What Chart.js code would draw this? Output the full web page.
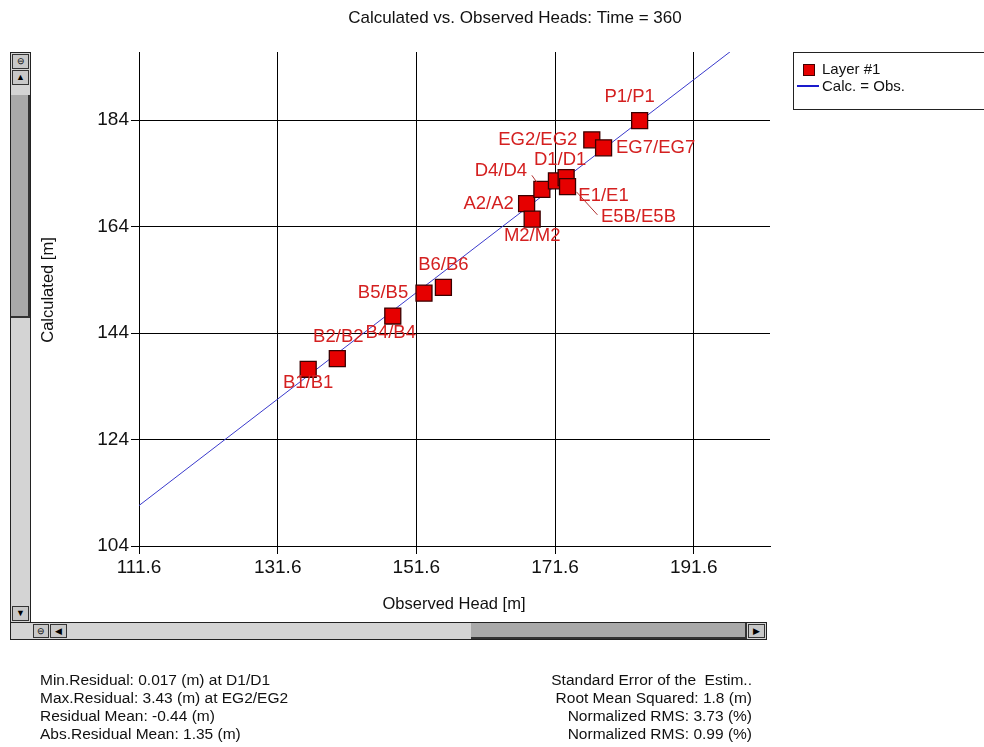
<!DOCTYPE html>
<html>
<head>
<meta charset="utf-8">
<script src="https://cdn.jsdelivr.net/npm/chart.js@4.4.1/dist/chart.umd.min.js"></script>
<style>
  body { margin: 0; background: #fff; }
  #wrap { position: relative; width: 984px; height: 747px; overflow: hidden; font-family: "Liberation Sans", Arial, sans-serif; color: #111; }
  #headsChart { position: absolute; left: 0; top: 0; }
  .sb { position: absolute; background: #d4d4d4; border: 1px solid #222; box-sizing: border-box; }
  .btn { position: absolute; background: #c8c8c8; border: 1px solid #333; box-sizing: border-box; font-size: 9px; line-height: 13px; text-align: center; color: #000; }
  .thumb { position: absolute; background: #a9a9a9; border-right: 2px solid #333; border-bottom: 2px solid #333; box-sizing: border-box; }
  #legendBox { position: absolute; left: 793px; top: 52px; width: 200px; height: 58px; border: 1px solid #222; box-sizing: border-box; font-size: 15px; }
  .stats { position: absolute; top: 671px; font-size: 15.5px; line-height: 18px; white-space: nowrap; }
</style>
</head>
<body>
<div id="wrap">
  <canvas id="headsChart" width="984" height="747"></canvas>

  <!-- vertical scroll bar -->
  <div class="sb" style="left:10px;top:52px;width:21px;height:571px;">
    <div class="btn" style="left:1px;top:1px;width:17px;height:15px;">&#8854;</div>
    <div class="btn" style="left:1px;top:17px;width:17px;height:15px;">&#9650;</div>
    <div class="thumb" style="left:0;top:42px;width:19px;height:223px;"></div>
    <div class="btn" style="left:1px;top:553px;width:17px;height:15px;">&#9660;</div>
  </div>
  <!-- horizontal scroll bar -->
  <div class="sb" style="left:10px;top:622px;width:757px;height:18px;">
    <div class="btn" style="left:22px;top:1px;width:16px;height:14px;">&#8854;</div>
    <div class="btn" style="left:39px;top:1px;width:17px;height:14px;">&#9664;</div>
    <div class="thumb" style="left:460px;top:0;width:276px;height:16px;"></div>
    <div class="btn" style="left:737px;top:1px;width:17px;height:14px;">&#9654;</div>
  </div>

  <div id="legendBox">
    <div style="position:absolute;left:9px;top:11px;width:10px;height:10px;background:#e60000;border:1px solid #400;"></div>
    <div style="position:absolute;left:28px;top:7px;">Layer #1</div>
    <div style="position:absolute;left:3px;top:32px;width:22px;height:2px;background:#1a1acc;"></div>
    <div style="position:absolute;left:28px;top:24px;">Calc. = Obs.</div>
  </div>

  <div class="stats" style="left:40px;">
    Min.Residual: 0.017 (m) at D1/D1<br>
    Max.Residual: 3.43 (m) at EG2/EG2<br>
    Residual Mean: -0.44 (m)<br>
    Abs.Residual Mean: 1.35 (m)
  </div>
  <div class="stats" style="right:232px;text-align:right;">
    Standard Error of the&nbsp; Estim..<br>
    Root Mean Squared: 1.8 (m)<br>
    Normalized RMS: 3.73 (%)<br>
    Normalized RMS: 0.99 (%)
  </div>
</div>

<script>
// observation wells: observed vs calculated head [m]
const pointNames = ['B1/B1', 'B2/B2', 'B4/B4', 'B5/B5', 'B6/B6', 'A2/A2', 'M2/M2', 'D4/D4',
                    'E5B/E5B', 'D1/D1', 'E1/E1', 'EG2/EG2', 'EG7/EG7', 'P1/P1'];
const observed   = [136.0, 140.2, 148.2, 152.7, 155.5, 167.5, 168.3, 169.7, 171.8, 173.2, 173.4, 176.9, 178.6, 183.8];
const calculated = [137.2, 139.2, 147.2, 151.5, 152.6, 168.3, 165.4, 171.0, 172.6, 173.2, 171.5, 180.3, 178.8, 183.9];
const xTicks = [111.6, 131.6, 151.6, 171.6, 191.6];
const yTicks = [104, 124, 144, 164, 184];
const identityLine = [100, 210];

// where each well name sits relative to its marker (px)
const labelOffsets = [[0, 14], [1, -22], [-2, 17], [-41, 0], [0, -22], [-38, 0], [0, 17], [-41, -18],
                      [82, 36], [-6, -18], [36, 9], [-54, 0], [52, 0], [-10, -24]];
const leaderLines = { 7: [[-10, -14], [-5, -7]], 8: [[20, 11], [41, 34]] };

const FONT = '"Liberation Sans", Arial, sans-serif';

const headsLabels = {
    id: 'headsLabels',
    afterDatasetsDraw(chart) {
        const ctx = chart.ctx;
        const meta = chart.getDatasetMeta(0);
        ctx.save();
        ctx.font = '18.5px ' + FONT;
        ctx.fillStyle = '#d42020';
        ctx.strokeStyle = '#b03030';
        ctx.lineWidth = 1;
        ctx.textAlign = 'center';
        ctx.textBaseline = 'middle';
        meta.data.forEach((pt, i) => {
            const off = labelOffsets[i];
            ctx.fillText(pointNames[i], pt.x + off[0], pt.y + off[1]);
            const ll = leaderLines[i];
            if (ll) {
                ctx.beginPath();
                ctx.moveTo(pt.x + ll[0][0], pt.y + ll[0][1]);
                ctx.lineTo(pt.x + ll[1][0], pt.y + ll[1][1]);
                ctx.stroke();
            }
        });
        ctx.restore();
    },
    afterDraw(chart) {
        const ctx = chart.ctx;
        ctx.save();
        ctx.fillStyle = '#111';
        ctx.textAlign = 'center';
        ctx.textBaseline = 'middle';
        ctx.font = '17px ' + FONT;
        ctx.fillText('Calculated vs. Observed Heads: Time = 360', 515, 18);
        ctx.font = '16.5px ' + FONT;
        ctx.fillText('Observed Head [m]', 454, 604);
        ctx.translate(48, 290);
        ctx.rotate(-Math.PI / 2);
        ctx.fillText('Calculated [m]', 0, 0);
        ctx.restore();
    }
};

const ctx = document.getElementById('headsChart').getContext('2d');
const headsChart = new Chart(ctx, {
    type: 'scatter',
    data: {
        datasets: [{
            label: 'Layer #1',
            data: observed.map((x, i) => ({ x: x, y: calculated[i] })),
            pointStyle: 'rect',
            pointRadius: 11.3,
            pointHoverRadius: 11.3,
            backgroundColor: '#e60000',
            borderColor: '#3a0000',
            borderWidth: 1.3
        }, {
            label: 'Calc. = Obs.',
            type: 'line',
            data: identityLine.map(v => ({ x: v, y: v })),
            borderColor: '#3a3acc',
            borderWidth: 1,
            pointRadius: 0,
            fill: false
        }]
    },
    options: {
        responsive: false,
        animation: false,
        layout: { padding: { left: 30, top: 52, right: 214, bottom: 161 } },
        plugins: {
            legend: { display: false },
            tooltip: { enabled: false }
        },
        scales: {
            x: {
                type: 'linear',
                min: 111.6,
                max: 202.6,
                afterBuildTicks: s => { s.ticks = xTicks.map(v => ({ value: v })); },
                afterFit: s => { s.height = 40; },
                grid: { color: '#000', lineWidth: 1, tickLength: 8 },
                border: { color: '#000' },
                ticks: { color: '#111', padding: 2, font: { size: 19, family: FONT }, callback: v => v.toFixed(1) }
            },
            y: {
                type: 'linear',
                min: 104,
                max: 196.8,
                afterBuildTicks: s => { s.ticks = yTicks.map(v => ({ value: v })); },
                afterFit: s => { s.width = 109; },
                grid: { color: '#000', lineWidth: 1, tickLength: 8 },
                border: { color: '#000' },
                ticks: { color: '#111', padding: 2, font: { size: 19, family: FONT }, callback: v => String(v) }
            }
        }
    },
    plugins: [headsLabels]
});
</script>
</body>
</html>
